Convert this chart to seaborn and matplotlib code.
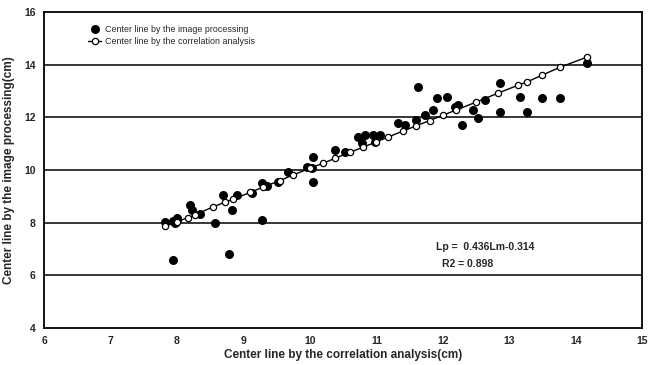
import numpy as np
import pandas as pd
import matplotlib
matplotlib.use("Agg")
import matplotlib.pyplot as plt
import seaborn as sns

# points
img_x = [7.82, 7.94, 8.0, 7.97, 8.0, 7.94, 8.2, 8.23, 8.35, 8.57, 8.69, 8.83, 8.9, 9.13, 9.28,
         9.28, 9.35, 8.78, 9.52, 9.67, 9.95, 10.03, 10.05, 10.05, 10.38, 10.53, 10.72, 10.78,
         10.83, 10.95, 11.05, 10.98, 11.32, 11.43, 11.6, 11.62, 11.73, 11.85, 11.92, 12.07,
         12.18, 12.23, 12.29, 12.45, 12.53, 12.63, 12.86, 12.86, 13.16, 13.26, 13.49, 13.76, 14.17]
img_y = [8.04, 8.06, 8.2, 7.98, 8.1, 6.57, 8.66, 8.47, 8.35, 7.98, 9.04, 8.47, 9.04, 9.12, 9.5,
         8.1, 9.4, 6.8, 9.54, 9.92, 10.1, 10.07, 10.49, 9.54, 10.75, 10.68, 11.25, 11.02,
         11.32, 11.32, 11.32, 11.06, 11.78, 11.7, 11.9, 13.15, 12.08, 12.27, 12.73, 12.77,
         12.39, 12.46, 11.7, 12.27, 11.97, 12.65, 13.3, 12.2, 12.77, 12.2, 12.73, 12.73, 14.06]

corr_x = [7.82, 8.0, 8.17, 8.27, 8.54, 8.72, 8.85, 9.1, 9.3, 9.55, 9.75, 10.0, 10.2, 10.38, 10.6,
          10.8, 11.0, 11.17, 11.4, 11.6, 11.8, 12.0, 12.2, 12.5, 12.83, 13.13, 13.26, 13.49,
          13.76, 14.17]
corr_y = [7.86, 8.04, 8.2, 8.3, 8.6, 8.78, 8.9, 9.15, 9.36, 9.6, 9.82, 10.07, 10.26, 10.45, 10.67,
          10.87, 11.07, 11.25, 11.48, 11.68, 11.88, 12.08, 12.28, 12.58, 12.92, 13.22, 13.34, 13.6,
          13.9, 14.29]

x_ticks = [6, 7, 8, 9, 10, 11, 12, 13, 14, 15]
y_ticks = [4, 6, 8, 10, 12, 14, 16]

img_df = pd.DataFrame({"x": img_x, "y": img_y})
corr_df = pd.DataFrame({"x": corr_x, "y": corr_y})

sns.set_style("white")
plt.rcParams['font.family'] = ['Liberation Sans', 'DejaVu Sans']

fig = plt.figure(figsize=(6.48, 3.65), dpi=100)
ax = fig.add_axes([0.068, 0.101, 0.923, 0.866])

for yv in y_ticks[1:-1]:
    ax.axhline(yv, color='black', lw=1.1, zorder=0)

sns.lineplot(data=corr_df, x="x", y="y", ax=ax, color='black', lw=1.0, marker='o',
             markersize=4.5, markerfacecolor='white', markeredgecolor='black',
             markeredgewidth=0.9, label='Center line by the correlation analysis', zorder=3)
sns.scatterplot(data=img_df, x="x", y="y", ax=ax, color='black', s=42, edgecolor='black',
                linewidth=0, label='Center line by the image processing', zorder=2)

ax.set_xlim(6, 15)
ax.set_ylim(4, 16)
ax.set_xticks(x_ticks)
ax.set_yticks(y_ticks)
ax.tick_params(length=0, labelsize=7.5, pad=6)
for lab in ax.get_xticklabels() + ax.get_yticklabels():
    lab.set_fontweight('bold')
for s in ax.spines.values():
    s.set_color('black')
    s.set_linewidth(1.3)

ax.set_xlabel('Center line by the correlation analysis(cm)', fontsize=8.5, fontweight='bold', labelpad=2)
ax.set_ylabel('Center line by the image processing(cm)', fontsize=8.5, fontweight='bold', labelpad=7)

ax.text(11.9, 7.07, 'Lp =  0.436Lm-0.314', fontsize=7.5, fontweight='bold', va='center')
ax.text(11.99, 6.45, 'R2 = 0.898', fontsize=7.5, fontweight='bold', va='center')

handles, labels = ax.get_legend_handles_labels()
ax.legend(handles[::-1], labels[::-1], loc='upper left', bbox_to_anchor=(0.06, 0.985),
          frameon=False, fontsize=6.4, handlelength=1.5, handletextpad=0.4, labelspacing=0.35)

fig.savefig('out.png', dpi=100)
